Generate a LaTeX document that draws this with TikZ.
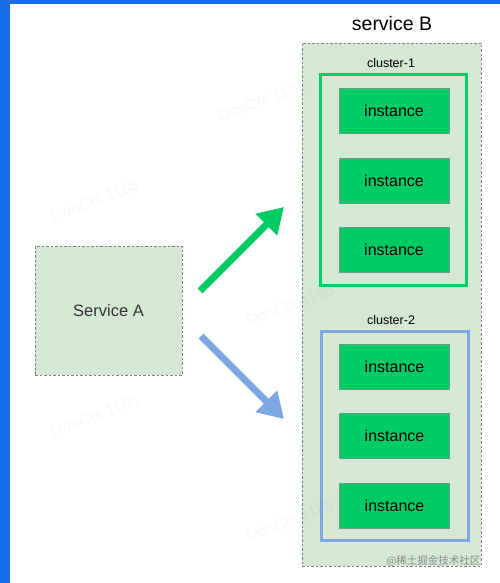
\documentclass[tikz,border=0pt]{standalone}
\usepackage{fontspec}
\setmainfont{Liberation Sans}
\newfontfamily\cjkfont{Noto Sans CJK SC}
\usetikzlibrary{arrows.meta}
\definecolor{framblue}{HTML}{1A6DE8}
\definecolor{boxfill}{HTML}{D5E8D4}
\definecolor{dashgray}{HTML}{808080}
\definecolor{instgreen}{HTML}{00CC66}
\definecolor{instedge}{HTML}{6A9C8C}
\definecolor{clblue}{HTML}{7EA6E0}
\tikzset{
  dashbox/.style={draw=dashgray, fill=boxfill, dash pattern=on 2.5pt off 2pt, line width=0.8pt, rectangle, inner sep=0pt},
  clusterbox/.style={draw=#1, line width=3pt, rectangle, inner sep=0pt, minimum width=146pt, minimum height=210pt},
  instbox/.style={draw=instedge, fill=instgreen, line width=0.9pt, rectangle, inner sep=0pt, minimum width=110pt, minimum height=45pt, font=\fontsize{16}{18}\selectfont},
  bigarrow/.style={draw=#1, line width=7pt, -{Triangle[length=25pt,width=29pt]}},
  wmark/.style={text=black, text opacity=0.03, rotate=20, font=\fontsize{16}{18}\selectfont},
}
\begin{document}
\begin{tikzpicture}[x=1pt,y=-1pt]
\useasboundingbox (0,0) rectangle (500,583);
\fill[white] (0,0) rectangle (500,583);
\fill[framblue] (0,0) rectangle (10,583);
\fill[framblue] (0,0) rectangle (500,4);
% service B
\node[font=\fontsize{19.5}{22}\selectfont] (titleB) at (392,24) {service B};
\node[dashbox, minimum width=179pt, minimum height=523pt] (svcB) at (391.5,304.5) {};
\node[font=\fontsize{12.5}{14}\selectfont] (c1label) at (391,63) {cluster-1};
\node[clusterbox=instgreen] (c1) at (393,180) {};
\node[instbox] (i1) at (394,110.5) {instance};
\node[instbox] (i2) at (394,180.5) {instance};
\node[instbox] (i3) at (394,250) {instance};
\node[font=\fontsize{12.5}{14}\selectfont] (c2label) at (391,320) {cluster-2};
\node[clusterbox=clblue, minimum width=147pt, minimum height=209pt] (c2) at (394.5,435.5) {};
\node[instbox] (j1) at (394.5,366.5) {instance};
\node[instbox] (j2) at (394.5,435.5) {instance};
\node[instbox] (j3) at (394.5,505.5) {instance};
% service A
\node[dashbox, minimum width=147pt, minimum height=129pt, font=\fontsize{16.5}{19}\selectfont, text=black!80] (svcA) at (108.5,310.5) {Service A};
% arrows
\coordinate (g0) at (200,291);
\coordinate (g1) at (284,207);
\coordinate (b0) at (201,336);
\coordinate (b1) at (284,419);
\draw[bigarrow=instgreen] (g0) -- (g1);
\draw[bigarrow=clblue] (b0) -- (b1);
% watermarks
\node[wmark] (w1) at (262,100) {DonChi 1165};
\node[wmark] (w2) at (95,200) {DonChi 1165};
\node[wmark] (w3) at (290,305) {DonChi 1165};
\node[wmark] (w4) at (95,415) {DonChi 1165};
\node[wmark] (w5) at (290,520) {DonChi 1165};
\node[text=black!45, font=\cjkfont\fontsize{10.5}{12}\selectfont, anchor=east] (wm) at (484,561) {@稀土掘金技术社区};
\end{tikzpicture}
\end{document}
